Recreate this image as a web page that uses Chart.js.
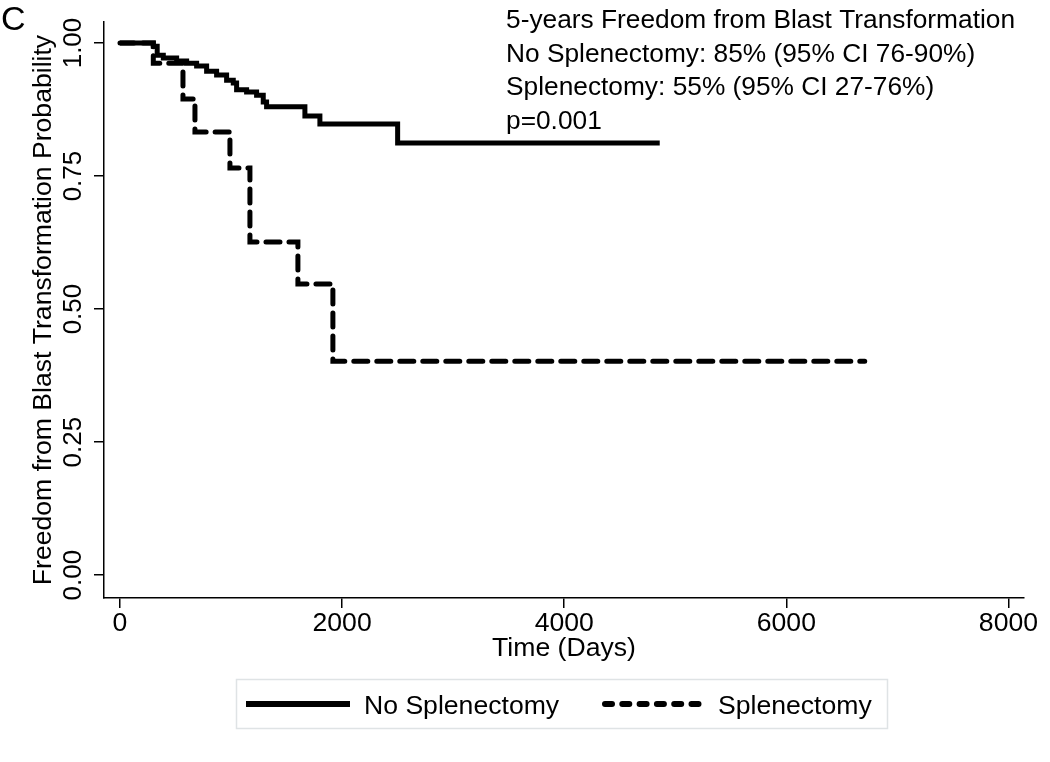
<!DOCTYPE html>
<html><head><meta charset="utf-8">
<script src="https://cdn.jsdelivr.net/npm/chart.js@4.4.1/dist/chart.umd.min.js"></script>
<style>html,body{margin:0;padding:0;background:#fff;} canvas{display:block;}</style>
</head><body>
<canvas id="c" width="1050" height="762"></canvas>
<script>
// ---- data ----
const noSplenTimes = [0, 300, 335, 390, 510, 600, 690, 780, 870, 960, 1020, 1050, 1140, 1230, 1290, 1320, 1665, 1800, 2500, 4860];
const noSplenProb  = [1.0, 0.994, 0.977, 0.972, 0.966, 0.962, 0.957, 0.947, 0.940, 0.930, 0.925, 0.912, 0.908, 0.902, 0.889, 0.880, 0.863, 0.848, 0.812, 0.812];
const splenTimes = [0, 300, 567, 675, 990, 1170, 1602, 1917, 6706];
const splenProb  = [1.0, 0.962, 0.895, 0.833, 0.765, 0.626, 0.547, 0.402, 0.402];
const seriesLabels = ['No Splenectomy', 'Splenectomy'];
const xTicks = [0, 2000, 4000, 6000, 8000];
const yTicks = [0, 0.25, 0.5, 0.75, 1];
const xTitle = 'Time (Days)';
const yTitle = 'Freedom from Blast Transformation Probability';
const panelLetter = 'C';
const annotationLines = [
  '5-years Freedom from Blast Transformation',
  'No Splenectomy: 85% (95% CI 76-90%)',
  'Splenectomy: 55% (95% CI 27-76%)',
  'p=0.001'
];

const FONT = '"Liberation Sans", Arial, sans-serif';
const FS = 26.6;
Chart.defaults.font.family = FONT;
Chart.defaults.color = '#000';

const toPts = (t, p) => t.map((x, i) => ({x: x, y: p[i]}));

const overlay = {
  id: 'overlay',
  afterDraw(chart) {
    const ctx = chart.ctx;
    ctx.save();
    ctx.fillStyle = '#000';
    ctx.textBaseline = 'alphabetic';
    ctx.textAlign = 'left';
    ctx.font = '34px ' + FONT;
    ctx.fillText(panelLetter, 1, 30);
    ctx.font = '26.3px ' + FONT;
    annotationLines.forEach((t, i) => ctx.fillText(t, 506, 28 + i * 33.5));

    // legend
    ctx.font = FS + 'px ' + FONT;
    ctx.strokeStyle = '#dfe3e5';
    ctx.lineWidth = 1.5;
    ctx.strokeRect(236.5, 679.5, 651, 49);
    const ds = chart.data.datasets;
    const items = [{x0: 246, x1: 350, tx: 364}, {x0: 602, x1: 706, tx: 718}];
    items.forEach((it, i) => {
      const dashed = ds[i].borderDash.length > 0;
      ctx.beginPath();
      ctx.strokeStyle = '#000';
      ctx.lineWidth = 6;
      ctx.lineCap = dashed ? 'round' : 'butt';
      ctx.setLineDash(dashed ? [7, 10.3] : []);
      ctx.moveTo(it.x0 + (dashed ? 3 : 0), 704);
      ctx.lineTo(it.x1, 704);
      ctx.stroke();
      ctx.setLineDash([]);
      ctx.fillText(ds[i].label, it.tx, 713.5);
    });
    ctx.restore();
  }
};

new Chart(document.getElementById('c'), {
  type: 'line',
  data: {
    datasets: [
      {label: seriesLabels[0], data: toPts(noSplenTimes, noSplenProb), borderColor: '#000', borderWidth: 5,
       borderDash: [], stepped: 'before', pointRadius: 0, tension: 0, fill: false},
      {label: seriesLabels[1], data: toPts(splenTimes, splenProb), borderColor: '#000', borderWidth: 5,
       borderDash: [14, 9], borderCapStyle: 'round', stepped: 'before', pointRadius: 0, tension: 0, fill: false}
    ]
  },
  options: {
    responsive: false,
    devicePixelRatio: 1,
    animation: false,
    layout: {padding: {left: 0, right: 26, top: 22, bottom: 94}},
    plugins: {legend: {display: false}, tooltip: {enabled: false}},
    scales: {
      x: {
        type: 'linear', min: -144, max: 8140,
        afterBuildTicks: s => { s.ticks = xTicks.map(v => ({value: v})); },
        ticks: {callback: v => String(v), font: {size: FS}, color: '#000', padding: 0, autoSkip: false, maxRotation: 0},
        grid: {drawOnChartArea: false, drawTicks: true, tickLength: 10, color: '#000', lineWidth: 1.5},
        border: {display: true, color: '#000', width: 1.5},
        title: {display: true, text: xTitle, font: {size: FS}, color: '#000', padding: {top: 0, bottom: 3}},
        afterFit: s => { s.height = 70; }
      },
      y: {
        type: 'linear', min: -0.043, max: 1.0395,
        afterBuildTicks: s => { s.ticks = yTicks.map(v => ({value: v})); },
        ticks: {callback: v => v.toFixed(2), font: {size: 26}, color: '#000', padding: -5,
                minRotation: 90, maxRotation: 90, crossAlign: 'center'},
        grid: {drawOnChartArea: false, drawTicks: true, tickLength: 10, color: '#000', lineWidth: 1.5},
        border: {display: true, color: '#000', width: 1.5},
        title: {display: true, text: yTitle, font: {size: FS}, color: '#000', padding: {top: 28, bottom: 0}},
        afterFit: s => { s.width = 104; }
      }
    }
  },
  plugins: [overlay]
});
</script>
</body></html>
